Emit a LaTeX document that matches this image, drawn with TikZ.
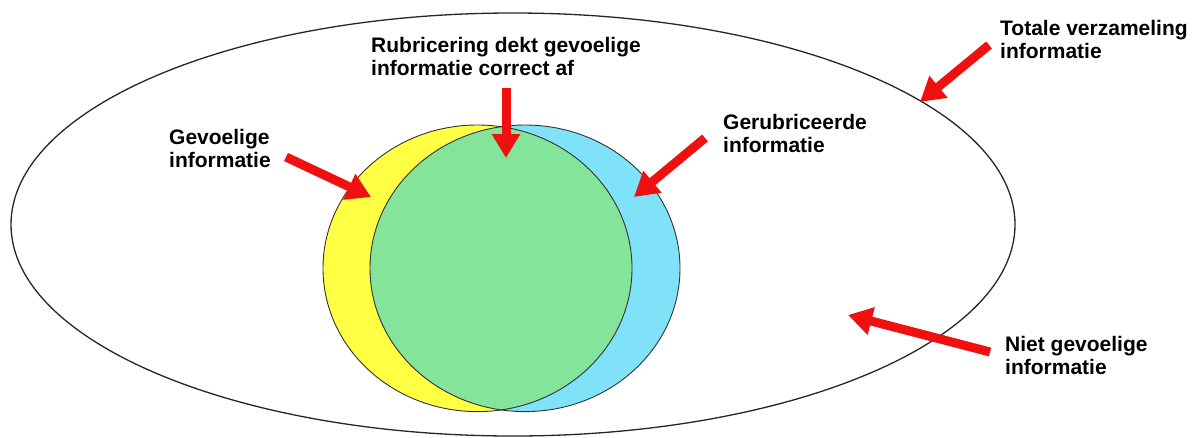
\documentclass[tikz,border=0pt]{standalone}
\usepackage{fontspec}
\setmainfont{Liberation Sans}
\usetikzlibrary{arrows.meta}

\definecolor{setyellow}{HTML}{FFFF44}
\definecolor{setblue}{HTML}{80E2F8}
\definecolor{setgreen}{HTML}{84E49A}
\definecolor{pointer}{HTML}{F01010}

\newcommand{\twolines}[2]{\vtop{\baselineskip=23.5pt\hbox{#1}\hbox{#2}}}

\begin{document}
\begin{tikzpicture}[x=1pt,y=-1pt,
  label/.style={anchor=base west,inner sep=0pt,font=\fontsize{21}{23.5}\selectfont\bfseries},
  pointerarrow/.style={draw=pointer,line width=9pt,-{Triangle[width=27pt,length=24pt]},shorten <=0pt}]
  \useasboundingbox (0,0) rectangle (1201,437);

  % universe of all information
  \draw[line width=1.3pt,black!85] (513,224.5) ellipse [x radius=502, y radius=211.5];

  % sensitive (yellow) and classified (blue) information
  \fill[setyellow] (477.5,268.3) ellipse [x radius=154.5, y radius=143.3];
  \fill[setblue]   (525,268.3) ellipse [x radius=155, y radius=143.3];
  \begin{scope}
    \clip (477.5,268.3) ellipse [x radius=154.5, y radius=143.3];
    \fill[setgreen] (525,268.3) ellipse [x radius=155, y radius=143.3];
  \end{scope}
  \draw[line width=0.9pt,black!80] (477.5,268.3) ellipse [x radius=154.5, y radius=143.3];
  \draw[line width=0.9pt,black!80] (525,268.3) ellipse [x radius=155, y radius=143.3];

  % labels
  \node[label] (totaal) at (1000,35) {\twolines{Totale verzameling}{informatie}};
  \node[label] (correct) at (371,52) {\twolines{Rubricering dekt gevoelige}{informatie correct af}};
  \node[label] (gevoelig) at (169,144) {\twolines{Gevoelige}{informatie}};
  \node[label] (gerub) at (723,129) {\twolines{Gerubriceerde}{informatie}};
  \node[label] (niet) at (1005,351) {\twolines{Niet gevoelige}{informatie}};

  % arrow ends
  \coordinate (totaalS) at (989,45);   \coordinate (totaalT) at (920,102);
  \coordinate (correctS) at (506,88);  \coordinate (correctT) at (506,158);
  \coordinate (gevoeligS) at (286,157);\coordinate (gevoeligT) at (371,197);
  \coordinate (gerubS) at (705,138);   \coordinate (gerubT) at (634,197);
  \coordinate (nietS) at (990,352);    \coordinate (nietT) at (848,315);

  \draw[pointerarrow] (totaalS) -- (totaalT);
  \draw[pointerarrow] (correctS) -- (correctT);
  \draw[pointerarrow] (gevoeligS) -- (gevoeligT);
  \draw[pointerarrow] (gerubS) -- (gerubT);
  \draw[pointerarrow] (nietS) -- (nietT);
\end{tikzpicture}
\end{document}
